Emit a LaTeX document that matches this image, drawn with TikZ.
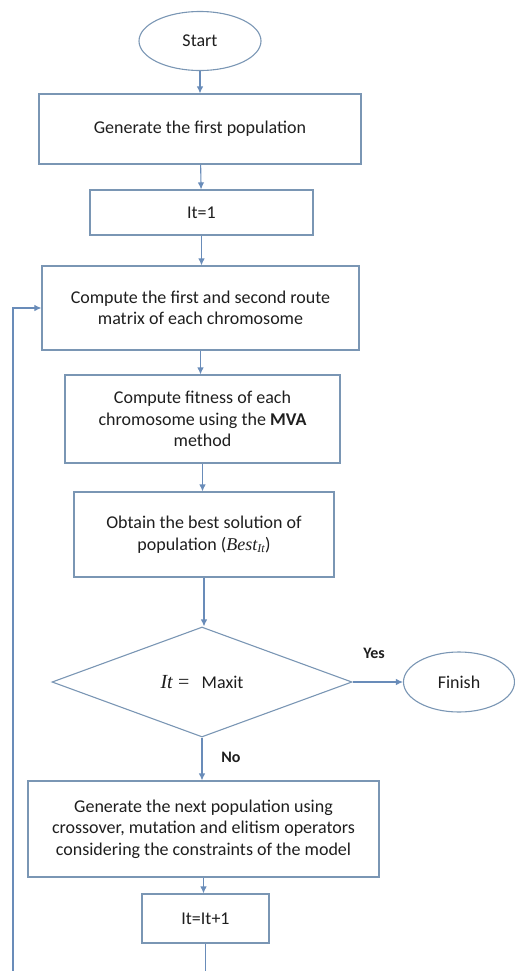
\documentclass[tikz,border=0pt]{standalone}
\usepackage{fontspec}
\setmainfont{Carlito}
\newfontfamily\serifmath{Liberation Serif}
\usetikzlibrary{arrows.meta,shapes.geometric}
\definecolor{bordc}{RGB}{122,150,180}
\definecolor{arrc}{RGB}{105,140,185}
\definecolor{txtc}{RGB}{30,30,30}
\tikzset{
  boxnode/.style={draw=bordc,line width=1.1bp,rectangle,align=center,inner sep=0pt,text=txtc,
    font=\fontsize{18bp}{21.5bp}\selectfont},
  ovalnode/.style={draw=bordc,line width=1.1bp,ellipse,inner sep=0pt,text=txtc,
    font=\fontsize{18bp}{21.5bp}\selectfont},
  decnode/.style={draw=bordc,line width=1.1bp,diamond,inner sep=0pt,aspect=2.73,text=txtc,
    font=\fontsize{18bp}{21.5bp}\selectfont},
  conn/.style={draw=arrc,line width=1.1bp,-{Latex[length=7bp,width=6.5bp]}},
  lbl/.style={text=txtc,font=\fontsize{16bp}{18bp}\selectfont\bfseries}
}
\begin{document}
\begin{tikzpicture}[x=1bp,y=-1bp]
\useasboundingbox (0,0) rectangle (515,971);
\clip (0,0) rectangle (515,971);
\node[ovalnode,minimum width=122bp,minimum height=59bp] (start) at (200,41) {Start};
\node[boxnode,minimum width=322bp,minimum height=70bp] (gen) at (200,129) {Generate the first population};
\node[boxnode,minimum width=223bp,minimum height=45bp] (it1) at (201.5,212.5) {It=1};
\node[boxnode,minimum width=317bp,minimum height=84bp] (route) at (200.5,308) {Compute the first and second route\\matrix of each chromosome};
\node[boxnode,minimum width=275bp,minimum height=88bp] (fit) at (202.5,419) {Compute fitness of each\\chromosome using the \textbf{MVA}\\method};
\node[boxnode,minimum width=260bp,minimum height=85bp] (best) at (204,534.5) {Obtain the best solution of\\population ({\serifmath\itshape Best\textsubscript{\fontsize{12bp}{12bp}\selectfont It}})};
\node[decnode,minimum width=300bp,minimum height=110bp] (dec) at (202,682) {{\serifmath\fontsize{20bp}{22bp}\selectfont\itshape It\/ \upshape=}\ \ \ Maxit};
\node[ovalnode,minimum width=111bp,minimum height=60bp] (fin) at (459,682) {Finish};
\node[boxnode,minimum width=351bp,minimum height=96bp] (next) at (203.5,829) {Generate the next population using\\crossover, mutation and elitism operators\\considering the constraints of the model};
\node[boxnode,minimum width=127bp,minimum height=49bp] (inc) at (205.5,918.5) {It=It+1};
\node[lbl] (yes) at (374,653) {Yes};
\node[lbl] (no) at (231,757) {No};
\coordinate (lowr) at (205.5,1000);
\coordinate (lowl) at (13,1000);
\draw[conn] (start) -- (gen);
\draw[conn] (gen) -- (it1);
\draw[conn] (it1.south) -- (it1.south |- route.north);
\draw[conn] (route.south) -- (route.south |- fit.north);
\draw[conn] (fit.south) -- (fit.south |- best.north);
\draw[conn] (best.south) -- (best.south |- dec.north);
\draw[conn] (dec.east) -- (fin.west);
\draw[conn] (dec.south) -- (dec.south |- next.north);
\draw[conn] (next.south) -- (next.south |- inc.north);
\draw[conn] (inc.south) -- (lowr) -- (lowl) |- (route.west);
\end{tikzpicture}
\end{document}
